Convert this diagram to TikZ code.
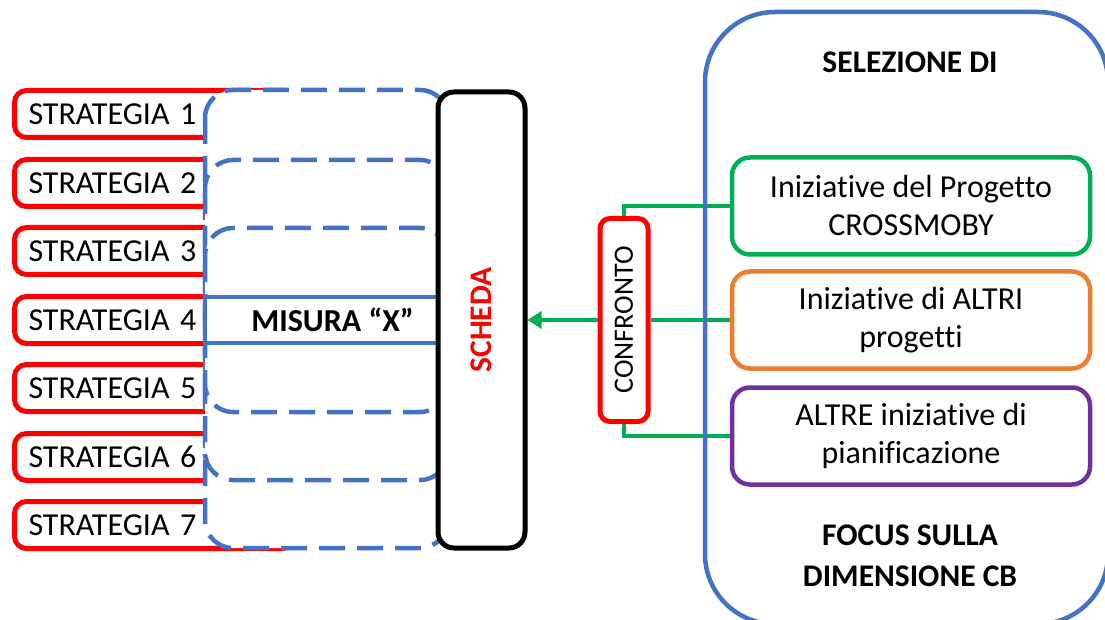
\documentclass[tikz,border=0pt]{standalone}
\usepackage{fontspec}
\setmainfont{Carlito}[Ligatures=CommonOff]
\usetikzlibrary{arrows.meta, positioning}

\definecolor{msred}{HTML}{FF0000}
\definecolor{msblue}{HTML}{4472C4}
\definecolor{msgreen}{HTML}{00B050}
\definecolor{msorange}{HTML}{ED7D31}
\definecolor{mspurple}{HTML}{7030A0}

\tikzset{
  strat/.style={draw=msred, line width=5pt, fill=white, rounded corners=12pt, anchor=west,
    text width=252pt, inner xsep=14pt, inner ysep=0pt, minimum height=47pt, align=left},
  misdash/.style={draw=msblue, line width=4.5pt, dash pattern=on 26pt off 12pt, fill=white, rounded corners=28pt},
  misura/.style={draw=msblue, line width=4.5pt, fill=white, minimum width=255pt, minimum height=46pt, inner sep=0pt},
  scheda/.style={draw=black, line width=5pt, fill=white, rounded corners=16pt, minimum width=87pt,
    minimum height=456pt, inner sep=0pt, text=msred, font=\fontsize{31.5}{38}\selectfont\bfseries},
  confbox/.style={draw=msred, line width=5pt, fill=white, rounded corners=10pt, minimum width=48pt,
    minimum height=203pt, inner sep=0pt, font=\fontsize{28}{34}\selectfont},
  initbox/.style={line width=4.5pt, fill=white, rounded corners=18pt, minimum width=358pt,
    minimum height=97pt, align=center},
  head/.style={font=\fontsize{31.5}{41}\selectfont\bfseries, align=center},
  link/.style={draw=msgreen, line width=4.5pt}
}

\begin{document}
\begin{tikzpicture}[x=1pt, y=-1pt, font=\fontsize{32}{38}\selectfont]
\useasboundingbox (0,0) rectangle (1105,620);
\clip (0,0) rectangle (1105,620);
% Strategie
\foreach \i/\yy in {1/114,2/183,3/251,4/320,5/388,6/457,7/525}
  \node[strat] (strat\i) at (12,\yy) {STRATEGIA \i};
% Misure (riquadri tratteggiati)
\draw[misdash] (205,90) rectangle (448,548);
\draw[misdash] (205,160) rectangle (448,480);
\draw[misdash] (205,228) rectangle (448,412);
\node[misura] (misura) at (332.5,320) {\textbf{MISURA “X”}};
% Scheda e confronto
\node[scheda] (scheda) at (481.5,320) {\rotatebox{90}{SCHEDA}};
\node[confbox] (conf) at (624,320) {\rotatebox{90}{CONFRONTO}};
% Iniziative
\node[initbox, draw=msgreen] (ini1) at (911,206) {Iniziative del Progetto\\CROSSMOBY};
\node[initbox, draw=msorange] (ini2) at (911,320) {Iniziative di ALTRI\\progetti};
\node[initbox, draw=mspurple] (ini3) at (911,436) {ALTRE iniziative di\\pianificazione};
\node[head] (sel) at (910,62) {SELEZIONE DI};
\node[head] (focus) at (910,556) {FOCUS SULLA\\DIMENSIONE CB};
% Collegamenti
\draw[link, -{Triangle[length=14pt, width=17pt]}] (conf.west) -- (scheda.east);
\draw[link] (conf.north) |- (ini1.west);
\draw[link] (conf.east) -- (ini2.west);
\draw[link] (conf.south) |- (ini3.west);
% Riquadro di selezione
\draw[msblue, line width=4.5pt, rounded corners=70pt] (705,12) rectangle (1108,624);
\end{tikzpicture}
\end{document}
